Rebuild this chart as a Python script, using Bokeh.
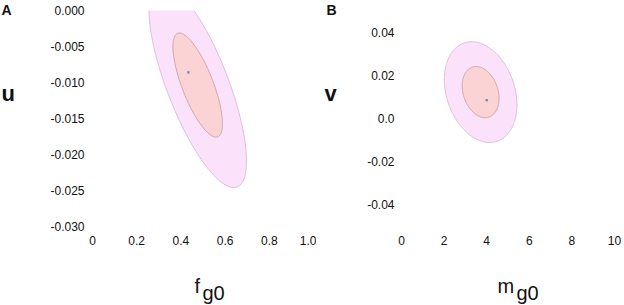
import numpy as np
from bokeh.plotting import figure
from bokeh.layouts import row, column
from bokeh.models import Label, FixedTicker, Range1d
from bokeh.embed import file_html
from bokeh.resources import INLINE

# ---------------- data ----------------
# Panel A : f_g0 (x) vs u (y)
a_xticks = [0, 0.2, 0.4, 0.6, 0.8, 1.0]
a_xlabels = ["0", "0.2", "0.4", "0.6", "0.8", "1.0"]
a_yticks = [0.0, -0.005, -0.010, -0.015, -0.020, -0.025, -0.030]
a_ylabels = ["0.000", "-0.005", "-0.010", "-0.015", "-0.020", "-0.025", "-0.030"]
a_center = [0.476, -0.01036]      # ellipse centre (x, y)
a_sd = [0.112, 0.00723]           # standard deviations (x, y)
a_rho = -0.74                     # correlation
a_point = [0.434, -0.00858]       # best-fit point

# Panel B : m_g0 (x) vs v (y)
b_xticks = [0, 2, 4, 6, 8, 10]
b_xlabels = ["0", "2", "4", "6", "8", "10"]
b_yticks = [0.04, 0.02, 0.0, -0.02, -0.04]
b_ylabels = ["0.04", "0.02", "0.0", "-0.02", "-0.04"]
b_center = [3.714, 0.01221]
b_sd = [0.865, 0.01184]
b_rho = -0.25
b_point = [4.0, 0.0085]

levels = [1.97, 1.0]              # outer, inner confidence contour scale
fills = ["#FBE1FA", "#FBD3D4"]
lines = ["#DCBEDC", "#C9A6AA"]

FONT = "Liberation Sans"
H = 305          # total height
HP = 255         # height of plot figures
HT = H - HP      # height of x-title strips


def ellipse(center, sd, rho, k, n=240):
    t = np.linspace(0, 2 * np.pi, n)
    x = center[0] + k * sd[0] * np.cos(t)
    y = center[1] + k * sd[1] * (rho * np.cos(t) + np.sqrt(1 - rho ** 2) * np.sin(t))
    return x, y


def panel(width, left, right, xr, yr, xticks, xlabels, yticks, ylabels,
          center, sd, rho, point, xstand, ystand):
    p = figure(width=width, height=HP, x_range=Range1d(*xr), y_range=Range1d(*yr),
               output_backend="svg", toolbar_location=None,
               min_border_left=left, min_border_right=right,
               min_border_top=10, min_border_bottom=HP - 226)
    p.grid.visible = False
    p.outline_line_color = None
    p.background_fill_color = "white"
    p.border_fill_color = "white"
    for ax, ticks, labels, st in ((p.xaxis[0], xticks, xlabels, xstand),
                                  (p.yaxis[0], yticks, ylabels, ystand)):
        ax.ticker = FixedTicker(ticks=ticks)
        ax.major_label_overrides = dict(zip(ticks, labels))
        ax.axis_line_color = None
        ax.major_tick_line_color = None
        ax.minor_tick_line_color = None
        ax.major_tick_in = 0
        ax.major_tick_out = 0
        ax.major_label_standoff = st
        ax.major_label_text_font = FONT
        ax.major_label_text_font_size = "12px"
        ax.major_label_text_color = "#111111"
    for k, fc, lc in zip(levels, fills, lines):
        ex, ey = ellipse(center, sd, rho, k)
        p.patch(ex, ey, fill_color=fc, line_color=lc, line_width=1)
    p.scatter([point[0]], [point[1]], marker="square", size=2.2,
              fill_color="#7878B4", line_color=None)
    return p


def strip(width, height):
    s = figure(width=width, height=height, x_range=Range1d(0, width),
               y_range=Range1d(0, height), x_axis_type=None, y_axis_type=None,
               output_backend="svg", toolbar_location=None, min_border=0)
    s.outline_line_color = None
    s.background_fill_color = "white"
    s.border_fill_color = "white"
    return s


def lab(p, text, x, y, size, bold=False):
    p.add_layout(Label(x=x, y=y, x_units="screen", y_units="screen", text=text,
                       text_font=FONT, text_font_size=size,
                       text_font_style="bold" if bold else "normal",
                       text_color="#111111", text_baseline="alphabetic",
                       text_align="left"))


# Panel A: figure page x 24..316, frame x 92..313, y 10..226
pA = panel(292, 68, 3, (0, 1), (-0.030, 0.0), a_xticks, a_xlabels,
           a_yticks, a_ylabels, a_center, a_sd, a_rho, a_point, 9, 8)
# Panel B: figure page x 345..624, frame x 401..614
pB = panel(279, 56, 10, (0, 10), (-0.05, 0.05), b_xticks, b_xlabels,
           b_yticks, b_ylabels, b_center, b_sd, b_rho, b_point, 9, 7)

# left strips (panel letter and y title); strip A page x 0.., strip B page x 316..
sA = strip(24, H)
lab(sA, "A", 1, H - 9, "14px", True)
lab(sA, "u", 1, H - 93, "22px", True)
sB = strip(29, H)
lab(sB, "B", 10, H - 9, "14px", True)
lab(sB, "v", 8, H - 92.5, "22px", True)

# bottom strips (x titles with subscript); frames aligned with panel frames
tA = strip(292, HT)
lab(tA, "f", 102, 20, "20px")
lab(tA, "g0", 110, 13, "20px")
tB = strip(279, HT)
lab(tB, "m", 96, 20, "20px")
lab(tB, "g0", 115, 13, "20px")

layout = row(sA, column(pA, tA), sB, column(pB, tB))
open("out.html", "w").write(file_html(layout, INLINE))
